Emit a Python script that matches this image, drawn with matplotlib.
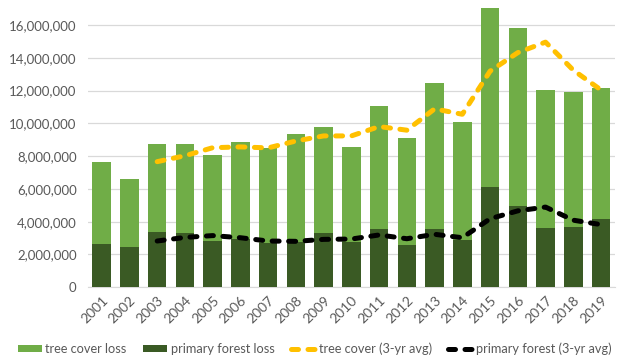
import matplotlib.pyplot as plt
import numpy as np
from matplotlib.ticker import FuncFormatter

plt.rcParams['font.family'] = ['Lato', 'DejaVu Sans']

# Years and values
years = [str(y) for y in range(2001, 2020)]
tree_cover_loss = [7.66, 6.59, 8.72, 8.74, 8.09, 8.85, 8.52, 9.35, 9.79, 8.55,
                   11.07, 9.12, 12.44, 10.10, 17.01, 15.81, 12.03, 11.89, 12.17]
primary_loss = [2.64, 2.46, 3.37, 3.29, 2.80, 2.97, 2.68, 2.78, 3.29, 2.74,
                3.55, 2.60, 3.55, 2.90, 6.10, 4.98, 3.60, 3.70, 4.16]
# 3-yr averages start in 2003
tree_avg = [7.66, 8.02, 8.51, 8.56, 8.50, 8.92, 9.23, 9.23, 9.80, 9.58,
            10.88, 10.55, 13.18, 14.31, 14.95, 13.24, 12.03]
primary_avg = [2.82, 3.04, 3.15, 3.02, 2.82, 2.80, 2.92, 2.94, 3.19, 2.96,
               3.23, 3.02, 4.18, 4.66, 4.89, 4.09, 3.82]

scale = 1e6
x = np.arange(len(years))

fig = plt.figure(figsize=(6.23, 3.62), dpi=100)
ax = fig.add_axes([0.141, 0.2065, 0.846, 0.7935])

b1 = ax.bar(x, np.array(tree_cover_loss) * scale, width=0.67, color='#70AD47',
            label='tree cover loss', zorder=2)
b2 = ax.bar(x, np.array(primary_loss) * scale, width=0.67, color='#3A5A24',
            label='primary forest loss', zorder=3)
l1, = ax.plot(x[2:], np.array(tree_avg) * scale, color='#FFC000', lw=3.6,
              dashes=(1.4, 1.9), dash_capstyle='round',
              label='tree cover (3-yr avg)', zorder=4)
l2, = ax.plot(x[2:], np.array(primary_avg) * scale, color='black', lw=3.6,
              dashes=(1.4, 1.9), dash_capstyle='round',
              label='primary forest (3-yr avg)', zorder=4)

ax.set_xlim(-0.5, len(years) - 0.5)
ax.set_ylim(0, 17.52e6)
ax.set_yticks(np.arange(0, 16.1e6, 2e6))
ax.yaxis.set_major_formatter(FuncFormatter(lambda v, p: f'{v:,.0f}'))
ax.set_xticks(x)
ax.set_xticklabels(years, rotation=45, ha='right', rotation_mode='anchor')
ax.tick_params(length=0, colors='#595959', labelsize=9.5)
ax.tick_params(axis='x', labelsize=10, pad=5)
ax.tick_params(axis='y', pad=8)
ax.grid(axis='y', color='#D9D9D9', lw=0.9, zorder=0)
for s in ['top', 'right', 'left']:
    ax.spines[s].set_visible(False)
ax.spines['bottom'].set_color('#D9D9D9')

fig.legend([b1, b2, l1, l2],
           ['tree cover loss', 'primary forest loss',
            'tree cover (3-yr avg)', 'primary forest (3-yr avg)'],
           loc='center', bbox_to_anchor=(0.505, 0.037), ncol=4, frameon=False,
           fontsize=9.2, labelcolor='#595959', handlelength=1.9,
           handleheight=0.55, handletextpad=0.25, columnspacing=1.3,
           borderpad=0.2)

fig.savefig('out.png', dpi=100)
